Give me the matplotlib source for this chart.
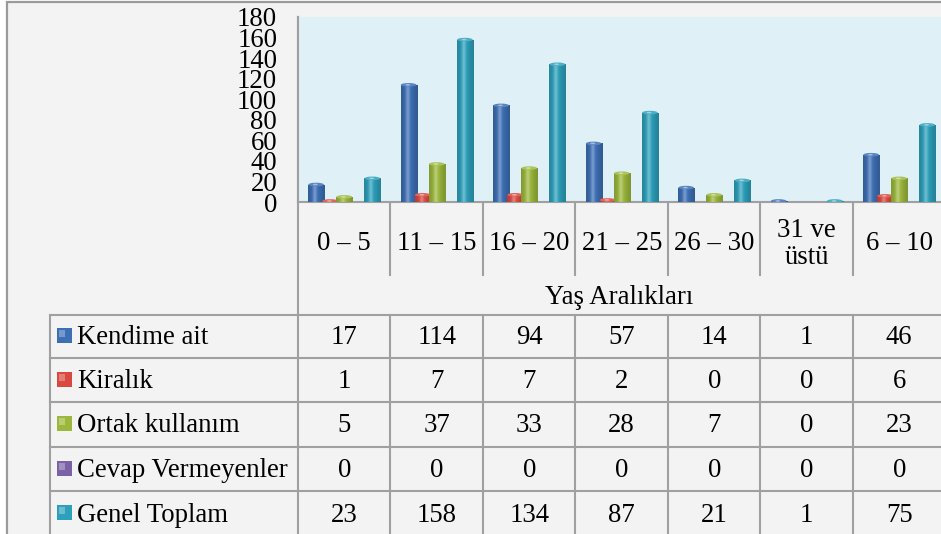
import numpy as np
import matplotlib
matplotlib.use("Agg")
import matplotlib.pyplot as plt
from matplotlib.patches import Rectangle, Ellipse
from matplotlib.colors import to_rgb

categories = ["0 – 5", "11 – 15", "16 – 20", "21 – 25", "26 – 30", "31 ve\nüstü", "6 – 10"]
series_names = ["Kendime ait", "Kiralık", "Ortak kullanım", "Cevap Vermeyenler", "Genel Toplam"]
kendime_ait = [17, 114, 94, 57, 14, 1, 46]
kiralik = [1, 7, 7, 2, 0, 0, 6]
ortak_kullanim = [5, 37, 33, 28, 7, 0, 23]
cevap_vermeyenler = [0, 0, 0, 0, 0, 0, 0]
genel_toplam = [23, 158, 134, 87, 21, 1, 75]
series_values = [kendime_ait, kiralik, ortak_kullanim, cevap_vermeyenler, genel_toplam]
series_colors = ["#3d6fb5", "#d9493f", "#9cb83c", "#7b62a6", "#2da0bb"]
y_ticks = [0, 20, 40, 60, 80, 100, 120, 140, 160, 180]
axis_title = "Yaş Aralıkları"

W, H = 941, 534
plt.rcParams['font.family'] = ['Liberation Serif', 'DejaVu Serif']
FS = 19.3
LINE = "#a0a0a0"
fig = plt.figure(figsize=(W / 100, H / 100), dpi=100)
fig.patch.set_facecolor("white")

# overlay axes in pixel coordinates for frame and table
ov = fig.add_axes([0, 0, 1, 1], zorder=0)
ov.set_xlim(0, W)
ov.set_ylim(H, 0)
ov.axis("off")
ov.add_patch(Rectangle((7, 1.5), W, H, facecolor="#f3f3f3", edgecolor="#9a9a9a", lw=1.6))

x0, cw = 298.0, 92.5
n = len(categories)
y_top, y_zero = 17.0, 202.0

ax = fig.add_axes([x0 / W, (H - y_zero) / H, n * cw / W, (y_zero - y_top) / H], zorder=2)
ax.set_facecolor("#dff0f6")
ax.set_xlim(0, n)
ax.set_ylim(0, 180)
for s in ["top", "right"]:
    ax.spines[s].set_visible(False)
for s in ["left", "bottom"]:
    ax.spines[s].set_color(LINE)
    ax.spines[s].set_linewidth(1.5)
ax.set_xticks([])
ax.set_yticks(y_ticks)
ax.set_yticklabels([str(v) for v in y_ticks], fontsize=FS)
ax.tick_params(axis="y", length=0, pad=15)


def shade(color, nx=64):
    c = np.array(to_rgb(color))
    t = np.linspace(0, 1, nx)
    dark = 0.80 + 0.20 * np.exp(-((t - 0.45) / 0.35) ** 2)
    hl = 0.30 * np.exp(-((t - 0.40) / 0.12) ** 2)
    img = c[None, :] * dark[:, None]
    img = img * (1 - hl[:, None]) + hl[:, None]
    return np.clip(img, 0, 1)[None, :, :]


bw = 0.175
step = 0.152
for k, (vals, col) in enumerate(zip(series_values, series_colors)):
    xs = np.arange(n) + 0.5 + (k - 2) * step
    bars = ax.bar(xs, vals, width=bw, color=col, edgecolor="none", zorder=3 + k)
    for b, v in zip(bars, vals):
        if v <= 0:
            continue
        xl, w_, h_ = b.get_x(), b.get_width(), b.get_height()
        im = ax.imshow(shade(col), extent=[xl, xl + w_, 0, h_], aspect="auto",
                       zorder=3 + k, interpolation="bilinear")
        im.set_clip_path(b)
        capc = np.array(to_rgb(col)) * 0.85 + 0.15
        ax.add_patch(Ellipse((xl + w_ / 2, h_), w_ * 0.96, 3.5,
                             facecolor=capc, edgecolor="none", zorder=3 + k + 0.5))
        ax.add_patch(Ellipse((xl + w_ * 0.45, h_), w_ * 0.3, 1.6,
                             facecolor="white", alpha=0.45, edgecolor="none", zorder=3 + k + 0.6))
ax.set_xlim(0, n)
ax.set_ylim(0, 180)

# category label row
for i, cat in enumerate(categories):
    cx = x0 + (i + 0.5) * cw
    ov.text(cx, 244, cat, ha="center", va="center", fontsize=FS, linespacing=1.12)
    if i > 0:
        ov.plot([x0 + i * cw] * 2, [y_zero, 275], color=LINE, lw=1.5)
ov.plot([x0, x0], [y_top, H], color=LINE, lw=1.5)
ov.text(x0 + n * cw / 2 - 3, 298, axis_title, ha="center", va="center", fontsize=FS)

# data table
rows_y = [315, 358, 402, 447, 491, 536]
ov.plot([50, W], [rows_y[0]] * 2, color=LINE, lw=1.5)
for yb in rows_y[1:-1]:
    ov.plot([50, W], [yb] * 2, color=LINE, lw=1.5)
ov.plot([50, 50], [rows_y[0], H], color=LINE, lw=1.5)
for i in range(1, n):
    ov.plot([x0 + i * cw] * 2, [rows_y[0], H], color=LINE, lw=1.5)
for r, (name, vals, col) in enumerate(zip(series_names, series_values, series_colors)):
    yc = (rows_y[r] + rows_y[r + 1]) / 2 + 1.5
    ov.add_patch(Rectangle((57, yc - 10), 15, 15, facecolor=col, edgecolor="none"))
    ov.add_patch(Rectangle((59, yc - 8), 6, 7, facecolor="white", alpha=0.3, edgecolor="none"))
    ov.text(77, yc, name, ha="left", va="center", fontsize=FS)
    for i, v in enumerate(vals):
        ov.text(x0 + (i + 0.5) * cw, yc, str(v), ha="center", va="center", fontsize=FS)

fig.savefig("out.png", dpi=100, facecolor=fig.get_facecolor())
